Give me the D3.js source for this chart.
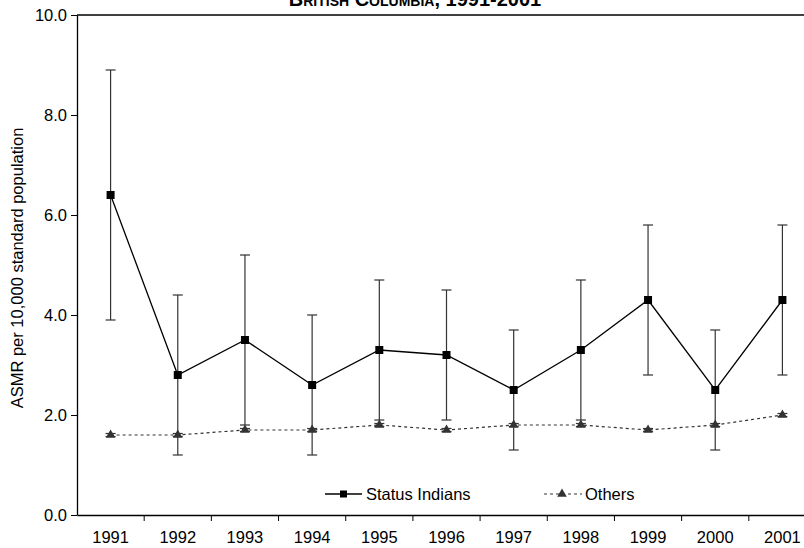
<!DOCTYPE html>
<html><head><meta charset="utf-8">
<script src="https://cdn.jsdelivr.net/npm/d3@7"></script>
<style>body{margin:0;background:#fff}svg{display:block;font-family:"Liberation Sans",Arial,sans-serif}</style>
</head><body><svg id="c" width="804" height="548"></svg>
<script>
const years = ["1991","1992","1993","1994","1995","1996","1997","1998","1999","2000","2001"];
const statusIndians = [6.4, 2.8, 3.5, 2.6, 3.3, 3.2, 2.5, 3.3, 4.3, 2.5, 4.3];
const statusLow =     [3.9, 1.2, 1.8, 1.2, 1.9, 1.9, 1.3, 1.9, 2.8, 1.3, 2.8];
const statusHigh =    [8.9, 4.4, 5.2, 4.0, 4.7, 4.5, 3.7, 4.7, 5.8, 3.7, 5.8];
const others =        [1.6, 1.6, 1.7, 1.7, 1.8, 1.7, 1.8, 1.8, 1.7, 1.8, 2.0];
const othersLow =     [1.57, 1.57, 1.67, 1.67, 1.77, 1.67, 1.77, 1.77, 1.67, 1.77, 1.97];
const othersHigh =    [1.63, 1.63, 1.73, 1.73, 1.83, 1.73, 1.83, 1.83, 1.73, 1.83, 2.03];
const yTicks = [0, 2, 4, 6, 8, 10];
const titleText = "British Columbia, 1991-2001";
const yLabel = "ASMR per 10,000 standard population";
const legendLabels = ["Status Indians", "Others"];

const svg = d3.select("#c");
const L = 77, T = 15, B = 515, R = 816;
const FS = 16.5;
const x = d3.scaleBand().domain(years).range([L, R]);
const y = d3.scaleLinear().domain([0, 10]).range([B, T]);
const cx = d => x(d) + x.bandwidth() / 2;

// title (partially cropped at top, as in the reference)
svg.append("text").attr("x", 415).attr("y", 6).attr("text-anchor", "middle")
  .attr("font-size", 20).attr("font-weight", "bold").style("font-variant", "small-caps")
  .attr("fill", "#000").text(titleText);

// top border line
svg.append("line").attr("x1", L).attr("x2", 804).attr("y1", T).attr("y2", T)
  .attr("stroke", "#000").attr("stroke-width", 1.3);

// y axis
const yAxis = svg.append("g").attr("transform", `translate(${L},0)`)
  .call(d3.axisLeft(y).tickValues(yTicks).tickFormat(d3.format(".1f")).tickSize(6).tickSizeOuter(0));
yAxis.select(".domain").attr("stroke", "#000").attr("stroke-width", 1.3);
yAxis.selectAll(".tick line").attr("stroke", "#000");
yAxis.selectAll("text").attr("font-size", FS).attr("fill", "#000").attr("x", -10).attr("font-family", "Liberation Sans, Arial, sans-serif");

// x axis
const xAxis = svg.append("g").attr("transform", `translate(0,${B})`)
  .call(d3.axisBottom(x).tickSize(0).tickSizeOuter(0));
xAxis.select(".domain").attr("stroke", "#000").attr("stroke-width", 1.3);
xAxis.selectAll("text").attr("font-size", FS).attr("fill", "#000").attr("dy", "1.5em").attr("font-family", "Liberation Sans, Arial, sans-serif");
// category boundary ticks
svg.append("g").selectAll("line").data(years.slice(1)).join("line")
  .attr("x1", d => x(d)).attr("x2", d => x(d)).attr("y1", B).attr("y2", B + 6)
  .attr("stroke", "#000");

// y label
svg.append("text").attr("transform", `translate(23,${(T + B) / 2 + 3}) rotate(-90)`)
  .attr("text-anchor", "middle").attr("font-size", FS).attr("fill", "#000").text(yLabel);

const capW = 5;
const si = years.map((yr, i) => ({yr, v: statusIndians[i], lo: statusLow[i], hi: statusHigh[i]}));
const ot = years.map((yr, i) => ({yr, v: others[i], lo: othersLow[i], hi: othersHigh[i]}));

function errBars(data, color) {
  const g = svg.append("g").attr("stroke", color).attr("stroke-width", 1.2);
  g.selectAll(".v").data(data).join("line")
    .attr("x1", d => cx(d.yr)).attr("x2", d => cx(d.yr)).attr("y1", d => y(d.lo)).attr("y2", d => y(d.hi));
  g.selectAll(".h").data(data).join("line")
    .attr("x1", d => cx(d.yr) - capW).attr("x2", d => cx(d.yr) + capW).attr("y1", d => y(d.hi)).attr("y2", d => y(d.hi));
  g.selectAll(".l").data(data).join("line")
    .attr("x1", d => cx(d.yr) - capW).attr("x2", d => cx(d.yr) + capW).attr("y1", d => y(d.lo)).attr("y2", d => y(d.lo));
}
errBars(ot, "#333");
errBars(si, "#333");

const line = d3.line().x(d => cx(d.yr)).y(d => y(d.v));
svg.append("path").datum(ot).attr("d", line).attr("fill", "none")
  .attr("stroke", "#333").attr("stroke-width", 1.2).attr("stroke-dasharray", "3,3");
svg.append("path").datum(si).attr("d", line).attr("fill", "none")
  .attr("stroke", "#000").attr("stroke-width", 1.3);

const tri = d3.symbol().type(d3.symbolTriangle).size(40);
svg.append("g").selectAll("path").data(ot).join("path")
  .attr("d", tri).attr("transform", d => `translate(${cx(d.yr)},${y(d.v)})`).attr("fill", "#333");
svg.append("g").selectAll("rect").data(si).join("rect")
  .attr("x", d => cx(d.yr) - 4).attr("y", d => y(d.v) - 4).attr("width", 8).attr("height", 8).attr("fill", "#000");

// legend
const ly = 494;
const lg = svg.append("g");
lg.append("line").attr("x1", 325).attr("x2", 362).attr("y1", ly).attr("y2", ly).attr("stroke", "#000").attr("stroke-width", 1.3);
lg.append("rect").attr("x", 340).attr("y", ly - 3.5).attr("width", 7).attr("height", 7).attr("fill", "#000");
lg.append("text").attr("x", 366).attr("y", ly + 6).attr("font-size", FS).text(legendLabels[0]);
lg.append("line").attr("x1", 544).attr("x2", 582).attr("y1", ly).attr("y2", ly).attr("stroke", "#333").attr("stroke-width", 1.2).attr("stroke-dasharray", "3,3");
lg.append("path").attr("d", tri).attr("transform", `translate(562,${ly})`).attr("fill", "#333");
lg.append("text").attr("x", 585).attr("y", ly + 6).attr("font-size", FS).text(legendLabels[1]);
</script></body></html>
